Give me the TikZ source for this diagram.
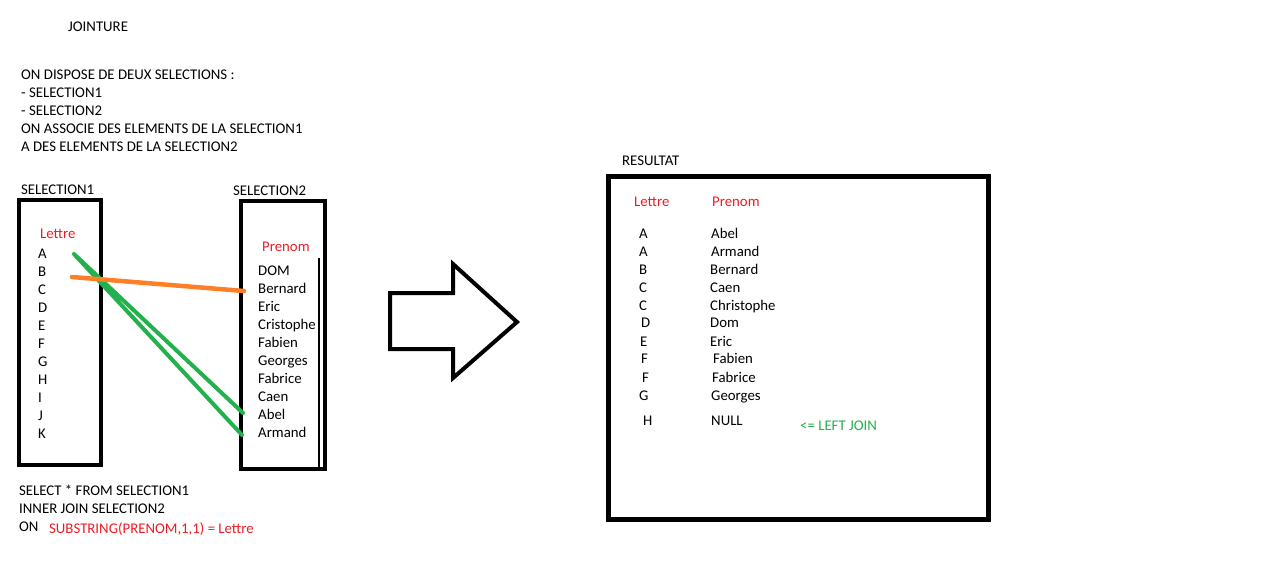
\documentclass[tikz,border=0pt]{standalone}
\usepackage{fontspec}
\setmainfont{Carlito}
\usepackage{tikz}
\usetikzlibrary{calc}

\definecolor{pred}{RGB}{237,28,36}
\definecolor{pgreen}{RGB}{34,177,76}
\definecolor{porange}{RGB}{255,127,39}

\begin{document}
\begin{tikzpicture}[x=1pt,y=-1pt,
	txt/.style={anchor=base west,inner sep=0pt,yshift=-5.6pt,font=\fontsize{14.8}{17.8}\selectfont},
	red txt/.style={txt,text=pred},
	frame/.style={line width=4pt},
	link/.style={line width=4pt,line cap=round}]
	\useasboundingbox (0,0) rectangle (1274,586);
	\node[txt] (title) at (68,26) {JOINTURE};
	\foreach \t [count=\i from 0] in {ON DISPOSE DE DEUX SELECTIONS :,- SELECTION1,- SELECTION2,ON ASSOCIE DES ELEMENTS DE LA SELECTION1,A DES ELEMENTS DE LA SELECTION2}
		\node[txt] (p\i) at (21,74+18*\i) {\t};
	% selection 1
	\node[txt] (s1) at (21,189) {SELECTION1};
	\draw[frame] (19,200) rectangle (101,465);
	\node[red txt] (lettre) at (40,233) {Lettre};
	\foreach \l [count=\i from 0] in {A,B,C,D,E,F,G,H,I,J,K}
		\node[txt] (l\l) at (38,253+18*\i) {\l};
	% selection 2
	\node[txt] (s2) at (233,190) {SELECTION2};
	\draw[frame] (240.5,201) rectangle (324.5,469);
	\draw[line width=1.2pt] (319,258) -- (319,467);
	\node[red txt] (prenom) at (262,246) {Prenom};
	\foreach \n [count=\i from 0] in {DOM,Bernard,Eric,Cristophe,Fabien,Georges,Fabrice,Caen,Abel,Armand}
		\node[txt] (n\n) at (258,270+18*\i) {\n};
	\coordinate (gA) at (74,254);
	\coordinate (oB) at (72,277);
	\coordinate (gAbel) at (243,413);
	\coordinate (gArmand) at (242,435);
	\coordinate (oBernard) at (244,291);
	\draw[link,pgreen] (gA) -- (gAbel) (gA) -- (gArmand);
	\draw[link,porange,line width=4.5pt] (oB) -- (oBernard);
	\node[txt] (q1) at (19,490) {SELECT * FROM SELECTION1};
	\node[txt] (q2) at (19,508) {INNER JOIN SELECTION2};
	\node[txt] (q3) at (19,526) {ON};
	\node[red txt] (q4) at (49,528) {SUBSTRING(PRENOM,1,1) = Lettre};
	% arrow
	\draw[frame,line join=miter] (390,293) -- (453,293) -- (453,264) -- (517,322) -- (453,378) -- (453,349) -- (390,349) -- cycle;
	% resultat
	\node[txt] (res) at (622,160) {RESULTAT};
	\draw[line width=4.5pt] (608.5,176.5) rectangle (988.5,519.5);
	\node[red txt] (rlettre) at (634,201) {Lettre};
	\node[red txt] (rprenom) at (712,201) {Prenom};
	\foreach \l/\lx/\n/\nx/\y [count=\i] in {A/639/Abel/711/233,A/639/Armand/711/251,B/639/Bernard/710/269,C/639/Caen/710/287,C/639/Christophe/710/305,D/641/Dom/710/322,E/640/Eric/710/341,F/641/Fabien/713/358,F/642/Fabrice/712/377,G/639/Georges/711/395,H/643/NULL/711/420}{
		\node[txt] (rl\i) at (\lx,\y) {\l};
		\node[txt] (rn\i) at (\nx,\y) {\n};
	}
	\node[txt,text=pgreen] (left) at (800,425) {<= LEFT JOIN};
\end{tikzpicture}
\end{document}
